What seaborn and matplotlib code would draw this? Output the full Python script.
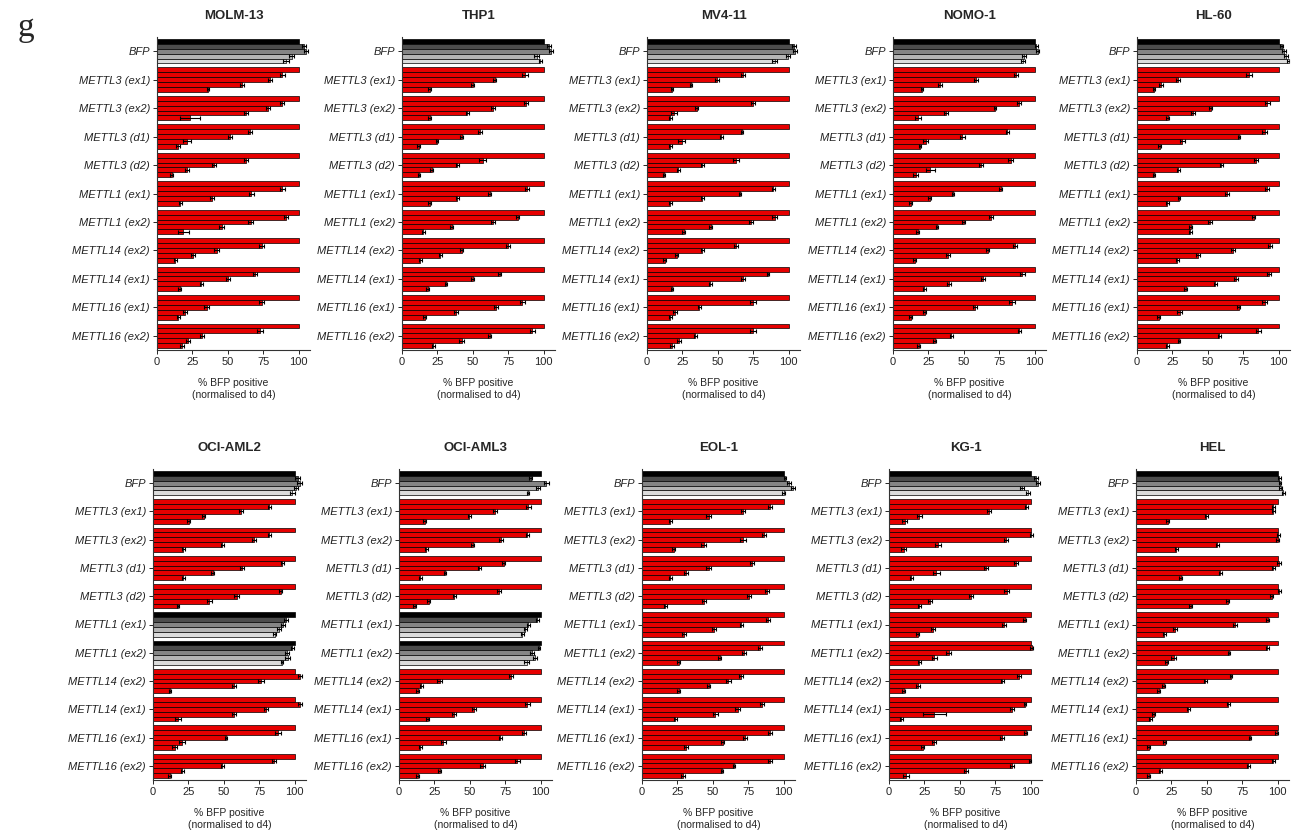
import numpy as np
import pandas as pd
import matplotlib
matplotlib.use("Agg")
import matplotlib.pyplot as plt
import seaborn as sns

# sgRNA guides (rows) and time points (bars within each row)
guides = ["BFP", "METTL3 (ex1)", "METTL3 (ex2)", "METTL3 (d1)", "METTL3 (d2)",
          "METTL1 (ex1)", "METTL1 (ex2)", "METTL14 (ex2)", "METTL14 (ex1)",
          "METTL16 (ex1)", "METTL16 (ex2)"]
days = ["d4", "d7", "d11", "d14", "d18"]

cell_lines = ["MOLM-13", "THP1", "MV4-11", "NOMO-1", "HL-60",
              "OCI-AML2", "OCI-AML3", "EOL-1", "KG-1", "HEL"]

# % BFP positive cells, normalised to d4 (one row per guide, one value per day)
molm13 = [[100, 104, 105, 95, 91], [100, 88.5, 79.6, 60, 36], [100, 88, 78.5, 63, 23.4],
          [100, 65.6, 51.5, 21, 15], [100, 62.8, 40, 21, 10.5], [100, 88.5, 66.7, 38.6, 16.4],
          [100, 91, 66, 45.6, 18.7], [100, 73.8, 42, 25.5, 12.9], [100, 69, 50, 31.4, 16],
          [100, 73.8, 35, 20, 15], [100, 72.6, 32, 22, 17.6]]
thp1 = [[100, 103.5, 105, 95, 97.6], [100, 87, 65.4, 50, 19.5], [100, 87.5, 64, 46, 19.5],
        [100, 55, 42, 24.7, 11.8], [100, 57, 39, 21, 12], [100, 88, 62, 39, 19.5],
        [100, 81.6, 64, 35, 15], [100, 75, 42, 27, 13], [100, 69, 50, 31, 18],
        [100, 85, 66.6, 38, 16], [100, 92, 62, 42, 22]]
mv411 = [[100, 103.5, 104.7, 99.5, 90], [100, 68, 49.4, 31, 17.6], [100, 74.6, 35, 19, 16.5],
         [100, 67, 52.5, 24.5, 16.5], [100, 63, 39, 22, 12], [100, 89, 65.6, 39, 16.5],
         [100, 90, 73.6, 45, 26], [100, 63, 39, 21, 12.5], [100, 85.4, 68, 44.7, 17.6],
         [100, 75, 37, 20, 16.5], [100, 75, 34, 22.6, 17.6]]
nomo1 = [[100, 101, 102, 92.5, 91.6], [100, 87, 58.6, 33, 20.5], [100, 89, 72, 37.4, 17.5],
         [100, 80.6, 49, 23, 19], [100, 83, 62, 26.4, 15.9], [100, 76, 42.3, 26, 12.4],
         [100, 69, 50, 31, 17.5], [100, 86, 66.8, 39, 15.4], [100, 91.4, 63.5, 39.7, 22],
         [100, 84, 58, 22.4, 12.6], [100, 89, 41, 29.4, 18]]
hl60 = [[100, 102, 104, 105, 107.5], [100, 79, 29, 17, 12], [100, 92, 52, 39.4, 21.8],
        [100, 90, 72, 32, 16], [100, 84, 59.6, 29, 12], [100, 92, 63.4, 29.6, 21.4],
        [100, 82.4, 51.6, 38, 37.6], [100, 94, 68, 43, 28.4], [100, 93, 70, 55.4, 34.3],
        [100, 90, 71.8, 30, 15.2], [100, 85.7, 58, 29.6, 21.4]]
ociaml2 = [[100, 102, 103.5, 101, 98.4], [100, 82, 62, 35.8, 25.3], [100, 82, 71.4, 49, 21.5],
           [100, 91.3, 62.8, 42, 21.5], [100, 90, 59, 39.8, 17.6], [100, 94, 92, 89, 86],
           [100, 98.4, 94.4, 95, 91], [100, 103.5, 76, 57.4, 12], [100, 103.5, 80, 57.4, 17.6],
           [100, 88, 51.5, 20.6, 15.2], [100, 85.5, 49, 20.6, 11.7]]
ociaml3 = [[100, 93, 104, 98, 91], [100, 91.4, 68, 49.6, 18], [100, 90.6, 72, 52, 19.2],
           [100, 74, 56.7, 32.5, 15], [100, 70.7, 39, 21, 11], [100, 97.7, 91.3, 89, 87],
           [100, 98.8, 94, 96, 90], [100, 79, 28.6, 15.7, 13.3], [100, 90.6, 52.7, 38.6, 20.4],
           [100, 88.3, 71.4, 31.4, 15], [100, 83.6, 59, 28.6, 13.3]]
eol1 = [[100, 101, 104, 106.6, 100], [100, 90.6, 71.3, 47, 20], [100, 86, 71.3, 43.5, 22.4],
        [100, 77.6, 47, 31, 20], [100, 88, 75.3, 44, 16.5], [100, 89, 70, 50.6, 29.4],
        [100, 83.5, 71.8, 54.8, 26], [100, 70, 61, 47, 26], [100, 84.7, 67.5, 51.8, 23.5],
        [100, 90.6, 72.7, 57, 31], [100, 90.6, 65, 56.5, 29]]
kg1 = [[100, 104, 105.4, 94, 98], [100, 97, 70.7, 21.5, 11], [100, 100.5, 82.4, 34.4, 10.3],
       [100, 89.5, 68.4, 33.3, 15.7], [100, 83, 57.8, 29, 21.5], [100, 95.8, 81.3, 31, 20.4],
       [100, 100.7, 42, 32, 21.5], [100, 91.8, 80, 20.4, 10.3], [100, 96, 87, 32, 8.7],
       [100, 96.5, 80, 32, 23.8], [100, 99.5, 87, 54.3, 12.2]]
hel = [[100, 101, 101.6, 102, 104], [100, 97, 97, 49.5, 22.3], [100, 100.5, 100, 57.5, 28.4],
       [100, 101, 97, 59.4, 31.7], [100, 101, 95.8, 64.6, 38.7], [100, 93, 70, 27.7, 20],
       [100, 92.7, 65.7, 26.5, 21.8], [100, 67, 48.8, 19.5, 16], [100, 65, 37, 12.4, 10],
       [100, 99.3, 80.5, 20.2, 9], [100, 97, 79.3, 17, 9]]

# SEM for each bar (d4 is the reference, so it carries no error)
molm13_err = [[0, 1.5, 1.5, 1.5, 2], [0, 1.5, 1.5, 1.5, 1], [0, 1.5, 1.5, 1.5, 7],
              [0, 1.5, 1.5, 3, 1.5], [0, 1.5, 1.5, 1.5, 1], [0, 1.5, 1.5, 1.5, 1],
              [0, 1.5, 2, 1.5, 4], [0, 2, 1.5, 1.5, 1], [0, 1.5, 1.5, 1, 1],
              [0, 2, 1.5, 1.5, 1], [0, 2, 1.5, 1.5, 1.5]]
thp1_err = [[0, 1.5, 1.5, 2, 1], [0, 2, 1, 1, 1], [0, 1.5, 1.5, 1, 1],
            [0, 1.5, 1, 1, 1], [0, 2.5, 1, 1, 1], [0, 1.5, 1, 1, 1],
            [0, 1, 1.5, 1, 1], [0, 1.5, 1, 1, 1], [0, 1, 1, 1, 1],
            [0, 2, 1.5, 1.5, 1], [0, 2, 1, 2, 1]]
mv411_err = [[0, 1.5, 1.5, 1.5, 2], [0, 1.5, 1.5, 1, 1], [0, 1.5, 1, 2, 1],
             [0, 1, 1, 2.5, 1], [0, 2, 1, 1, 1], [0, 1, 1, 1, 1],
             [0, 1.5, 1.5, 1, 1], [0, 1.5, 1, 1, 1], [0, 1, 1.5, 1, 1],
             [0, 2, 1, 1.5, 1], [0, 2, 1, 1.5, 1.5]]
nomo1_err = [[0, 1, 1, 1.5, 1.5], [0, 1.5, 1.5, 1.5, 1], [0, 1.5, 1, 1.5, 2],
             [0, 1, 1.5, 2, 1], [0, 1.5, 1.5, 3, 1.5], [0, 1, 1, 1, 1],
             [0, 1.5, 1, 1, 1], [0, 1.5, 1, 1.5, 1], [0, 1.5, 1.5, 1.5, 1],
             [0, 2, 1.5, 1, 1], [0, 1, 1, 1, 1]]
hl60_err = [[0, 1, 1.5, 1.5, 1.5], [0, 2, 1.5, 1.5, 1], [0, 2, 1, 1.5, 1],
            [0, 1.5, 1, 2, 1], [0, 1.5, 1, 1, 1], [0, 1.5, 1.5, 1, 1],
            [0, 1, 1.5, 1, 1], [0, 1.5, 1.5, 1.5, 1], [0, 1.5, 1.5, 1, 1],
            [0, 1.5, 1, 1.5, 1], [0, 1.5, 1, 1, 1]]
ociaml2_err = [[0, 2, 2, 1.5, 2], [0, 1, 1.5, 1, 1], [0, 1, 1.5, 1, 1],
               [0, 1, 1.5, 1, 1], [0, 1, 1.5, 1.5, 1], [0, 1.5, 1.5, 1.5, 1],
               [0, 1, 1.5, 1.5, 1], [0, 1.5, 2, 1.5, 1], [0, 1.5, 1.5, 1.5, 2],
               [0, 2, 1, 2, 1.5], [0, 1.5, 1, 1, 1]]
ociaml3_err = [[0, 1, 2, 1.5, 1], [0, 1.5, 1.5, 1, 1], [0, 1, 1.5, 1, 1],
               [0, 1, 1, 1, 1], [0, 1.5, 1, 1, 1], [0, 1, 1, 1, 1],
               [0, 1, 1.5, 1.5, 1.5], [0, 1.5, 1.5, 1, 1], [0, 2, 1.5, 1.5, 1],
               [0, 1.5, 1, 2, 1], [0, 1.5, 1.5, 1, 1]]
eol1_err = [[0, 1, 1.5, 1.5, 1], [0, 1.5, 1.5, 1.5, 1], [0, 1.5, 2, 2, 1],
            [0, 1.5, 1.5, 1.5, 1], [0, 1.5, 1.5, 1.5, 1], [0, 1.5, 1, 1.5, 1.5],
            [0, 1.5, 1.5, 1, 1], [0, 1.5, 1.5, 1, 1], [0, 1.5, 1.5, 1.5, 1],
            [0, 1.5, 1.5, 1, 1.5], [0, 1.5, 1, 1, 1.5]]
kg1_err = [[0, 1.5, 1.5, 1.5, 1.5], [0, 1, 1.5, 1.5, 1.5], [0, 1, 1.5, 2, 1.5],
           [0, 1.5, 1.5, 2.5, 1], [0, 1.5, 1.5, 1.5, 1], [0, 1, 1.5, 1.5, 1],
           [0, 1, 1.5, 2, 1], [0, 1.5, 1, 1.5, 1], [0, 1, 1.5, 8, 1],
           [0, 1, 1.5, 1.5, 1], [0, 1, 1.5, 1.5, 2]]
hel_err = [[0, 1, 1, 1, 1], [0, 1, 1, 1, 1], [0, 1, 1, 1, 1],
           [0, 1.5, 1, 1, 1], [0, 1, 1, 1, 1], [0, 1, 1.5, 1.5, 1],
           [0, 1, 1, 1.5, 1], [0, 1, 1, 1, 1], [0, 1, 1, 1, 1],
           [0, 1, 1, 1, 1], [0, 1, 1, 1, 1]]

panel_values = [molm13, thp1, mv411, nomo1, hl60, ociaml2, ociaml3, eol1, kg1, hel]
panel_errors = [molm13_err, thp1_err, mv411_err, nomo1_err, hl60_err,
                ociaml2_err, ociaml3_err, eol1_err, kg1_err, hel_err]

# guides drawn in the grey control shading in each cell line
control_guides = {name: {"BFP"} for name in cell_lines}
control_guides["OCI-AML2"] |= {"METTL1 (ex1)", "METTL1 (ex2)"}
control_guides["OCI-AML3"] |= {"METTL1 (ex1)", "METTL1 (ex2)"}

greys = ["#000000", "#4d4d4d", "#858585", "#b5b5b5", "#dcdcdc"]
red = "#e60000"

sns.set_style("ticks")
plt.rcParams["font.family"] = ["Liberation Sans", "DejaVu Sans"]

fig = plt.figure(figsize=(13, 8.33), dpi=100)
W, H = 1300, 833

top_lefts = [157, 402, 647, 893, 1137]
bottom_lefts = [153, 399, 642, 889, 1136]
ax_w = 153 / W


def draw_panel(ax, name, values, errors):
    df = pd.DataFrame({
        "guide": np.repeat(guides, len(days)),
        "day": days * len(guides),
        "pct": np.ravel(values),
    })
    sns.barplot(data=df, y="guide", x="pct", hue="day", order=guides,
                hue_order=days, palette=greys, orient="h", width=0.86,
                edgecolor="black", linewidth=0.5, errorbar=None,
                legend=False, ax=ax)
    xs, ys, es = [], [], []
    for d, cont in enumerate(ax.containers):
        for g, bar in enumerate(cont):
            if guides[g] not in control_guides[name]:
                bar.set_facecolor(red)
            e = errors[g][d]
            if e > 0:
                xs.append(bar.get_width())
                ys.append(bar.get_y() + bar.get_height() / 2)
                es.append(e)
    ax.errorbar(xs, ys, xerr=es, fmt="none", ecolor="black",
                elinewidth=0.8, capsize=1.2, capthick=0.8, zorder=5)
    ax.set_xlim(0, 108)
    ax.set_ylim(len(guides) - 0.5, -0.5)
    ax.set_xticks([0, 25, 50, 75, 100])
    ax.tick_params(axis="x", labelsize=8, length=3, width=0.7, pad=2)
    ax.tick_params(axis="y", labelsize=8, length=3, width=0.7, pad=2)
    for lab in ax.get_yticklabels():
        lab.set_fontstyle("italic")
        lab.set_color("#222222")
    ax.set_ylabel("")
    ax.set_xlabel("% BFP positive\n(normalised to d4)", fontsize=7.5,
                  labelpad=8, linespacing=1.3)
    ax.set_title(name, fontsize=9.5, fontweight="bold", pad=13)
    for side in ("top", "right"):
        ax.spines[side].set_visible(False)
    for side in ("left", "bottom"):
        ax.spines[side].set_linewidth(0.8)
        ax.spines[side].set_color("#333333")


for i, name in enumerate(cell_lines):
    if i < 5:
        left = top_lefts[i] / W
        bottom = 1 - 350 / H
        height = (350 - 37) / H
    else:
        left = bottom_lefts[i - 5] / W
        bottom = 1 - 780 / H
        height = (780 - 469) / H
    ax = fig.add_axes([left, bottom, ax_w, height])
    draw_panel(ax, name, panel_values[i], panel_errors[i])

fig.text(18 / W, 1 - 28 / H, "g", fontsize=24, family="Liberation Serif",
         va="center", ha="left")

fig.savefig("out.png", dpi=100, facecolor="white")
